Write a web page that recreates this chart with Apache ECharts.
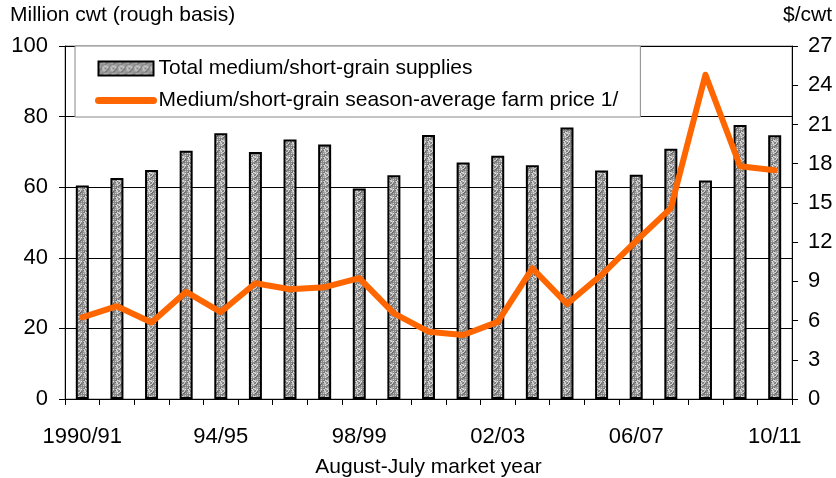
<!DOCTYPE html>
<html>
<head>
<meta charset="utf-8">
<title>Medium/short-grain supplies and price</title>
<script src="https://cdn.jsdelivr.net/npm/echarts@6/dist/echarts.min.js"></script>
<style>
  html, body { margin: 0; padding: 0; background: #fff; }
  #chart { width: 836px; height: 478px; }
</style>
</head>
<body>
<div id="chart"></div>
<script>
var years = ['1990/91','91/92','92/93','93/94','94/95','95/96','96/97','97/98','98/99','99/00',
             '00/01','01/02','02/03','03/04','04/05','05/06','06/07','07/08','08/09','09/10','10/11'];
// million cwt, rough basis
var supplies = [60.5, 62.6, 64.9, 70.3, 75.3, 70.0, 73.5, 72.1, 59.6, 63.4,
                74.8, 67.0, 68.9, 66.2, 76.9, 64.7, 63.5, 70.9, 61.9, 77.6, 74.7];
// $/cwt
var price = [6.25, 7.1, 5.85, 8.2, 6.65, 8.85, 8.4, 8.55, 9.25, 6.55,
             5.15, 4.9, 5.9, 10.0, 7.27, 9.5, 12.1, 14.6, 24.8, 17.8, 17.5];

var supplyName = 'Total medium/short-grain supplies';
var priceName = 'Medium/short-grain season-average farm price 1/';
var font = '"Liberation Sans", Arial, sans-serif';

// speckled gray fill for the bars
function makeTexture() {
  var c = document.createElement('canvas');
  c.width = 8; c.height = 8;
  var ctx = c.getContext('2d');
  for (var i = 0; i < 8; i++) {
    for (var j = 0; j < 8; j++) {
      var g = 105 + ((i * 37 + j * 91 + i * j * 13) % 9) * 15;
      ctx.fillStyle = 'rgb(' + g + ',' + g + ',' + g + ')';
      ctx.fillRect(i, j, 1, 1);
    }
  }
  return c;
}

var texture = makeTexture();
var chart = echarts.init(document.getElementById('chart'));

var option = {
  animation: false,
  textStyle: { fontFamily: font, color: '#000' },
  grid: {
    left: 65, right: 44, top: 46, bottom: 79,
    containLabel: false,
    outerBoundsMode: 'none',
    show: true, borderColor: '#888', borderWidth: 1
  },
  legend: {
    orient: 'vertical',
    left: 75, top: 46,
    padding: [12, 22, 6, 20],
    itemGap: 11,
    itemWidth: 55, itemHeight: 14,
    backgroundColor: '#fff',
    borderColor: '#888', borderWidth: 1,
    textStyle: { fontSize: 21, color: '#000', fontFamily: font },
    selectedMode: false,
    data: [
      { name: supplyName, icon: 'rect' },
      // thick orange stroke, no marker
      { name: priceName, itemStyle: { opacity: 0 }, lineStyle: { width: 7, cap: 'round', color: '#ff6600' } }
    ]
  },
  graphic: [
    { type: 'text', left: 10, top: 5, style: { text: 'Million cwt (rough basis)', fontSize: 21, fontFamily: font, fill: '#000' } },
    { type: 'text', right: 4, top: 5, style: { text: '$/cwt', fontSize: 21, fontFamily: font, fill: '#000' } }
  ],
  xAxis: {
    type: 'category',
    data: years,
    name: 'August-July market year',
    nameLocation: 'middle',
    nameGap: 58,
    nameTextStyle: { fontSize: 21, color: '#000' },
    axisLine: { lineStyle: { color: '#000', width: 1 } },
    axisTick: { show: true, interval: 0, length: 6, lineStyle: { color: '#000' } },
    axisLabel: { interval: 3, fontSize: 22, color: '#000', margin: 27 }
  },
  yAxis: [
    {
      type: 'value', min: 0, max: 100, interval: 20,
      axisLine: { show: true, lineStyle: { color: '#000' } },
      axisTick: { show: true, length: 6, lineStyle: { color: '#000' } },
      axisLabel: { fontSize: 22, color: '#000', margin: 17 },
      splitLine: { lineStyle: { color: '#000', width: 1 } }
    },
    {
      type: 'value', min: 0, max: 27, interval: 3,
      axisLine: { show: true, lineStyle: { color: '#000' } },
      axisTick: { show: true, length: 6, lineStyle: { color: '#000' } },
      axisLabel: { fontSize: 22, color: '#000', margin: 16 },
      splitLine: { show: false }
    }
  ],
  series: [
    {
      name: supplyName,
      type: 'bar',
      data: supplies,
      barWidth: 13,
      itemStyle: {
        color: { image: texture, repeat: 'repeat' },
        borderColor: '#000',
        borderWidth: 2
      }
    },
    {
      name: priceName,
      type: 'line',
      yAxisIndex: 1,
      data: price,
      symbol: 'none',
      z: 5,
      lineStyle: { color: '#ff6600', width: 6, cap: 'round', join: 'round' },
      itemStyle: { color: '#ff6600' }
    }
  ]
};

chart.setOption(option);
</script>
</body>
</html>
